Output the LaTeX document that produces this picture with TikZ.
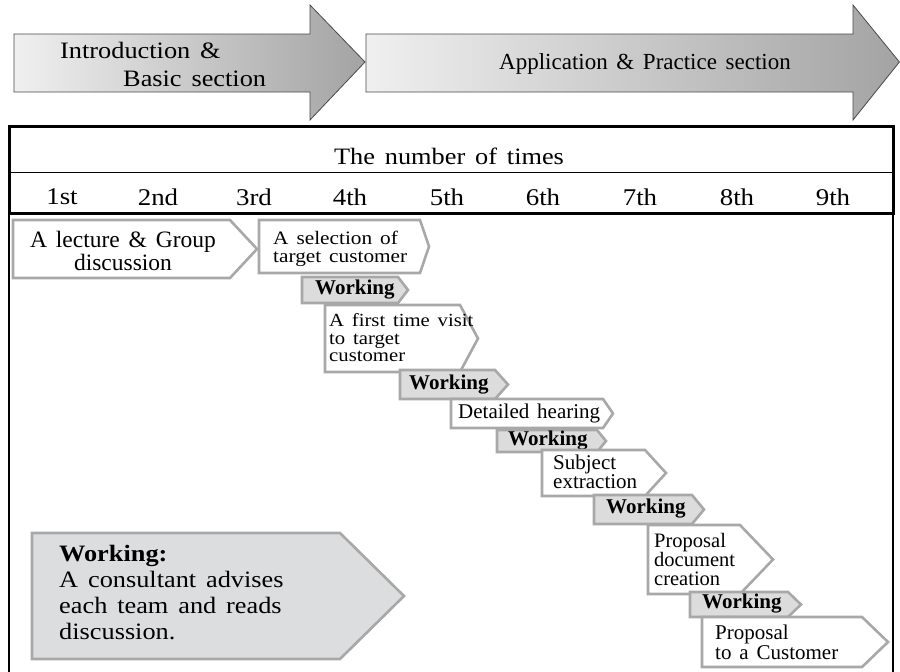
\documentclass[tikz,border=0pt]{standalone}
\usepackage{fontspec}
\setmainfont[WordSpace=1.5]{Liberation Serif}
\newfontfamily\wide[FakeStretch=1.12, WordSpace=1.5]{Liberation Serif}
\definecolor{arrowline}{HTML}{4A4A4A}
\definecolor{procgray}{HTML}{A8A8A8}
\definecolor{workgray}{HTML}{DCDCDC}
\definecolor{legendgray}{HTML}{DCDDDF}
\newcommand\fsz[2]{\fontsize{#1}{#2}\selectfont}
% pentagon: style, left, top, base of point, point, bottom
\newcommand\chevron[6]{\draw[#1] (#2,#3) -- (#4,#3) -- (#5,{(#3+#6)/2}) -- (#4,#6) -- (#2,#6) -- cycle;}
\begin{document}
\begin{tikzpicture}[x=1pt,y=-1pt,
  phase/.style={draw=arrowline, line width=0.8pt, line join=miter,
    left color=black!6, right color=black!36},
  procbox/.style={draw=procgray, line width=2.6pt, line join=miter, fill=white},
  workbox/.style={procbox, fill=workgray},
  txt/.style={inner sep=0pt, anchor=west, align=left},
  worktxt/.style={txt, font=\fsz{21}{21}\bfseries}]
\useasboundingbox (0,0) rectangle (900,672);

% section arrows
\shadedraw[phase] (14,34) -- (310,34) -- (310,5) -- (365,62) -- (310,120) -- (310,92) -- (14,92) -- cycle;
\shadedraw[phase] (366,34) -- (853,34) -- (853,5) -- (899.4,62) -- (853,120) -- (853,92) -- (366,92) -- cycle;
\node[txt, font=\wide\fsz{23.5}{28}] (intro) at (60,64) {Introduction \&\\\hspace{63pt}Basic section};
\node[font=\fsz{23}{28}, inner sep=0pt] (applic) at (645,64) {Application \& Practice section};

% table frame
\draw[line width=1.4pt] (9,213) -- (9,672);
\draw[line width=1.4pt] (893,213) -- (893,672);
\draw[line width=0.8pt] (9,172) -- (893,172);
\draw[line width=3pt] (9,126) rectangle (893,213);
\node[font=\wide\fsz{23.5}{23}] (title) at (449,156) {The number of times};
\foreach \lab/\cx [count=\i] in {1st/62,2nd/158,3rd/254,4th/350,5th/447,6th/543,7th/640,8th/737,9th/833}
  \node[font=\wide\fsz{24}{24}] (c\i) at (\cx,197) {\lab};

% process steps
\chevron{procbox}{13}{220}{230}{257}{278}
\node[font=\fsz{23.5}{21}, align=center, inner sep=0pt] (lecture) at (123,251) {A lecture \& Group\\discussion};

\chevron{procbox}{259}{220}{420}{429}{273}
\node[txt, font=\wide\fsz{19}{18}] (select) at (273,249) {A selection of\\target customer};

\chevron{procbox}{325}{305}{460}{478}{372}
\node[txt, font=\wide\fsz{18.5}{17.5}] (visit) at (329,338) {A first time visit\\to target\\customer};

\chevron{workbox}{302}{277}{398}{408}{303}
\node[worktxt] (work1) at (315,290) {Working};

\chevron{workbox}{400}{370}{495}{508}{399}
\node[worktxt] (work2) at (409,385) {Working};

\chevron{procbox}{451}{399}{603}{613}{428}
\node[txt, font=\fsz{21}{21}] (hearing) at (458,413) {Detailed hearing};

\chevron{workbox}{497}{430}{597}{606}{452}
\node[worktxt] (work3) at (508,441) {Working};

\chevron{procbox}{542}{450}{645}{666}{496}
\node[txt, font=\fsz{21}{19}] (subject) at (553,472) {Subject\\extraction};

\chevron{workbox}{594}{495}{692}{704}{524}
\node[worktxt] (work4) at (606,509) {Working};

\chevron{procbox}{648}{525}{740}{773}{594}
\node[txt, font=\fsz{20.5}{19}] (propdoc) at (654,559) {Proposal\\document\\creation};

\chevron{workbox}{690}{592}{788}{801}{617}
\node[worktxt] (work5) at (702,604) {Working};

\chevron{procbox}{702}{617}{862}{888}{667}
\node[txt, font=\fsz{21}{20}] (propcust) at (715,642) {Proposal\\to a Customer};

% legend
\chevron{procbox, fill=legendgray}{32}{533}{340}{404}{659}
\node[txt, font=\wide\fsz{23.5}{26}] (legend) at (59,593) {\textbf{Working:}\\A consultant advises\\each team and reads\\discussion.};
\end{tikzpicture}
\end{document}
